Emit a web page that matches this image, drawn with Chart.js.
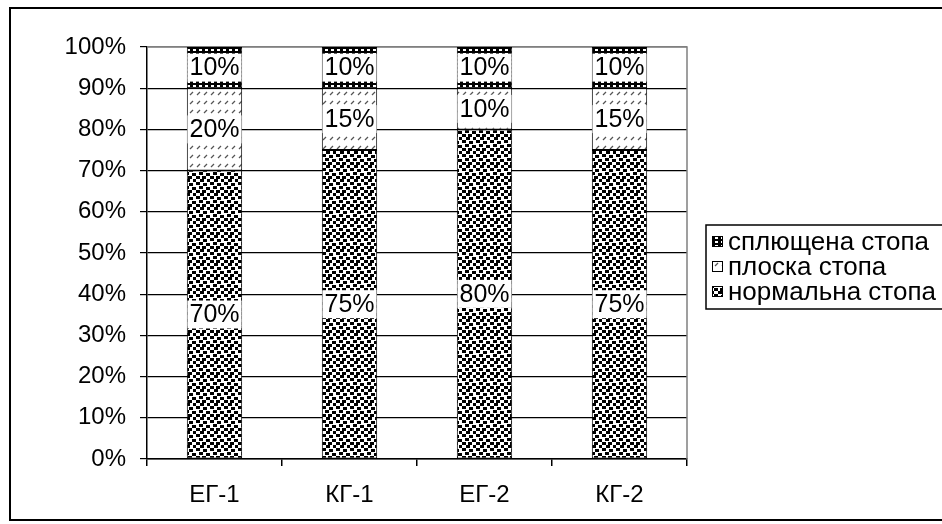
<!DOCTYPE html>
<html lang="uk">
<head>
  <meta charset="UTF-8" />
  <title>Стан стопи</title>
  <script src="https://cdn.jsdelivr.net/npm/chart.js"></script>
  <style>
    body {
      margin: 0;
      padding: 0;
      background: #ffffff;
    }
    .wrap {
      width: 942px;
      height: 524px;
    }
  </style>
</head>
<body>
  <div class="wrap">
    <canvas id="footChart" width="942" height="524"></canvas>
  </div>

  <script>
    const categories = ['ЕГ-1', 'КГ-1', 'ЕГ-2', 'КГ-2'];
    const normalFoot = [70, 75, 80, 75];
    const flatFoot = [20, 15, 10, 15];
    const flattenedFoot = [10, 10, 10, 10];
    const seriesNames = ['нормальна стопа', 'плоска стопа', 'сплющена стопа'];

    const FONT = '"Liberation Sans", Arial, sans-serif';

    // fill patterns like the old Excel hatches
    function makePattern(w, h, draw) {
      const c = document.createElement('canvas');
      c.width = w;
      c.height = h;
      const g = c.getContext('2d');
      draw(g);
      return document.getElementById('footChart').getContext('2d').createPattern(c, 'repeat');
    }

    const dotsPattern = makePattern(14, 14, g => {
      g.fillStyle = '#fff';
      g.fillRect(0, 0, 14, 14);
      g.fillStyle = '#000';
      [[0, 0], [7, 1], [3, 4], [10, 5], [0, 8], [6, 8], [11, 11], [4, 11]].forEach(([x, y]) => {
        g.fillRect(x, y, 4, 3);
      });
    });

    const hatchPattern = makePattern(7, 9, g => {
      g.fillStyle = '#fff';
      g.fillRect(0, 0, 7, 9);
      g.strokeStyle = '#555';
      g.lineWidth = 1.3;
      g.beginPath();
      g.moveTo(1, 5);
      g.lineTo(4, 2);
      g.stroke();
    });

    const darkPattern = makePattern(6, 4, g => {
      g.fillStyle = '#000';
      g.fillRect(0, 0, 6, 4);
      g.fillStyle = '#fff';
      g.fillRect(1, 1, 3, 2);
    });

    const fills = [dotsPattern, hatchPattern, darkPattern];

    const frame = {
      id: 'frame',
      beforeDraw(chart) {
        const ctx = chart.ctx;
        ctx.save();
        ctx.fillStyle = '#fff';
        ctx.fillRect(0, 0, chart.width, chart.height);
        ctx.restore();
      },
      beforeDatasetsDraw(chart) {
        const { ctx, chartArea: a } = chart;
        ctx.save();
        ctx.strokeStyle = '#808080';
        ctx.lineWidth = 1.5;
        ctx.beginPath();
        ctx.moveTo(a.left, a.top);
        ctx.lineTo(a.right, a.top);
        ctx.lineTo(a.right, a.bottom);
        ctx.stroke();
        ctx.restore();
      },
      afterDraw(chart) {
        const ctx = chart.ctx;
        ctx.save();
        // outer chart border
        ctx.strokeStyle = '#000';
        ctx.lineWidth = 2;
        ctx.strokeRect(10, 8, 960, 512);

        // legend
        ctx.lineWidth = 1.5;
        ctx.strokeRect(706, 225, 300, 84);
        ctx.font = '26px ' + FONT;
        ctx.textBaseline = 'middle';
        ctx.textAlign = 'left';
        [2, 1, 0].forEach((di, row) => {
          const y = 242 + row * 25;
          ctx.fillStyle = fills[di];
          ctx.fillRect(712, y - 6, 11, 11);
          ctx.strokeStyle = '#000';
          ctx.lineWidth = 1;
          ctx.strokeRect(712.5, y - 5.5, 10, 10);
          ctx.fillStyle = '#000';
          ctx.fillText(chart.data.datasets[di].label, 728, y + 1);
        });
        ctx.restore();
      },
      afterDatasetsDraw(chart) {
        const ctx = chart.ctx;
        ctx.save();
        ctx.font = '25px ' + FONT;
        ctx.textAlign = 'center';
        ctx.textBaseline = 'middle';
        chart.data.datasets.forEach((ds, di) => {
          chart.getDatasetMeta(di).data.forEach((bar, i) => {
            const { x, y, base } = bar.getProps(['x', 'y', 'base'], true);
            const cy = (y + base) / 2;
            const text = ds.data[i] + '%';
            const w = ctx.measureText(text).width;
            ctx.fillStyle = '#fff';
            ctx.fillRect(x - w / 2 - 2, cy - 14, w + 4, 28);
            ctx.fillStyle = '#000';
            ctx.fillText(text, x, cy + 1);
          });
        });
        ctx.restore();
      }
    };

    const values = [normalFoot, flatFoot, flattenedFoot];

    new Chart(document.getElementById('footChart'), {
      type: 'bar',
      data: {
        labels: categories,
        datasets: values.map((v, i) => ({
          label: seriesNames[i],
          data: v,
          backgroundColor: fills[i],
          borderColor: '#000',
          borderWidth: 1,
          borderSkipped: false,
          barPercentage: 0.41,
          categoryPercentage: 1
        }))
      },
      options: {
        responsive: false,
        animation: false,
        devicePixelRatio: 1,
        layout: {
          padding: { left: 0, right: 255, top: 47, bottom: 0 }
        },
        plugins: {
          legend: { display: false },
          tooltip: { enabled: false }
        },
        scales: {
          x: {
            stacked: true,
            afterFit: s => { s.height = 65; },
            grid: {
              drawOnChartArea: false,
              drawTicks: true,
              tickLength: 7,
              color: '#000',
              lineWidth: 1.5
            },
            border: { display: true, color: '#000', width: 1.5 },
            ticks: {
              color: '#000',
              font: { family: FONT, size: 24 },
              padding: 15
            }
          },
          y: {
            stacked: true,
            min: 0,
            max: 100,
            afterFit: s => { s.width = 147; },
            grid: {
              color: ctx => ctx.tick && ctx.tick.value === 100 ? '#808080' : '#000',
              tickColor: '#000',
              tickLength: 7,
              lineWidth: 1.2
            },
            border: { display: true, color: '#000', width: 1.5 },
            ticks: {
              stepSize: 10,
              color: '#000',
              padding: 14,
              font: { family: FONT, size: 24 },
              callback: v => v + '%'
            }
          }
        }
      },
      plugins: [frame]
    });
  </script>
</body>
</html>
